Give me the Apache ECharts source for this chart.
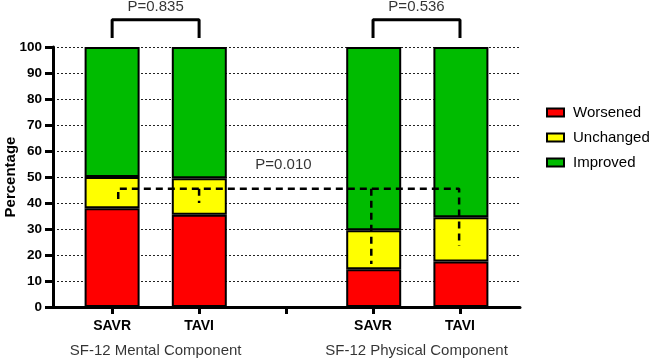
<!DOCTYPE html>
<html>
<head>
<meta charset="utf-8">
<script src="https://cdn.jsdelivr.net/npm/echarts@6/dist/echarts.min.js"></script>
<style>
  html, body { margin: 0; padding: 0; background: #fff; }
  #chart { width: 650px; height: 359px; }
</style>
</head>
<body>
<div id="chart"></div>
<script>
// 数据
var categories = ['SAVR', 'TAVI', '', 'SAVR', 'TAVI'];   // slot 2 = gap between groups
var worsened = [38, 35.5, '-', 14.5, 17.5];
var unchanged = [12, 14, '-', 15, 17];
var improved = [50, 50.5, '-', 70.5, 65.5];
var groupNames = ['SF-12 Mental Component', 'SF-12 Physical Component'];
var groupPos = [0.5, 3.5];
var pTexts = ['P=0.835', 'P=0.536', 'P=0.010'];

var FONT = 'Arial, "Liberation Sans", sans-serif';
var chart = echarts.init(document.getElementById('chart'));

function barSeries(name, vals, color) {
    return {
        name: name,
        type: 'bar',
        stack: 'total',
        barWidth: 55,
        xAxisIndex: 1,
        yAxisIndex: 1,
        data: vals,
        itemStyle: { color: color, borderColor: '#000', borderWidth: 2 },
        z: 2
    };
}

// 括号线
function bracket(data, dashed) {
    return {
        type: 'line',
        data: data,
        symbol: 'none',
        clip: false,
        silent: true,
        lineStyle: { color: '#000', width: dashed ? 2.5 : 3, type: dashed ? [7, 5] : 'solid' },
        z: 5
    };
}

function textSeries(items, size) {
    return {
        type: 'scatter',
        symbolSize: 0,
        clip: false,
        silent: true,
        data: items.map(function (t) { return { value: [t[0], t[1]], name: t[2] }; }),
        label: { show: true, position: 'inside', formatter: '{b}', color: '#000', fontSize: size, fontFamily: FONT },
        z: 6
    };
}

chart.setOption({
    animation: false,
    grid: [
        { left: 53, right: 130, top: 47, bottom: 52, outerBoundsMode: 'none', containLabel: false },
        { left: 68.5, right: 145.5, top: 47, bottom: 52, outerBoundsMode: 'none', containLabel: false }
    ],
    legend: {
        data: ['Worsened', 'Unchanged', 'Improved'],
        orient: 'vertical',
        left: 541,
        top: 100,
        itemWidth: 17,
        itemHeight: 8,
        itemGap: 10,
        icon: 'rect',
        itemStyle: { borderColor: '#000', borderWidth: 2 },
        textStyle: { color: '#000', fontSize: 15, fontFamily: FONT, padding: [0, 0, 0, 4] }
    },
    xAxis: [{
        type: 'value',
        gridIndex: 0,
        min: -0.68,
        max: 4.69,
        splitLine: { show: false },
        axisLine: { lineStyle: { color: '#000', width: 3 } },
        axisTick: { show: true, customValues: [0, 1, 2, 3, 4], length: 7, lineStyle: { color: '#000', width: 3 } },
        axisLabel: {
            customValues: [0, 1, 3, 4],
            formatter: function (v) { return categories[Math.round(v)]; },
            color: '#000', fontWeight: 'bold', fontSize: 14, fontFamily: FONT, margin: 12
        }
    }, {
        type: 'category',
        gridIndex: 1,
        data: categories,
        show: false
    }],
    yAxis: [{
        type: 'value',
        gridIndex: 0,
        min: 0,
        max: 100,
        interval: 10,
        name: 'Percentage',
        nameLocation: 'middle',
        nameGap: 35,
        nameMoveOverlap: false,
        nameTextStyle: { color: '#000', fontWeight: 'bold', fontSize: 15, fontFamily: FONT },
        axisLine: { show: true, onZero: false, lineStyle: { color: '#000', width: 3 } },
        axisTick: { show: true, length: 8, lineStyle: { color: '#000', width: 3 } },
        axisLabel: { color: '#000', fontWeight: 'bold', fontSize: 13.5, fontFamily: FONT, margin: 11 },
        splitLine: { show: true, lineStyle: { color: '#222', width: 1, type: [2, 2] } }
    }, {
        type: 'value',
        gridIndex: 1,
        min: 0,
        max: 100,
        show: false,
        splitLine: { show: false }
    }],
    series: [
        barSeries('Worsened', worsened, '#ff0000'),
        barSeries('Unchanged', unchanged, '#ffff00'),
        barSeries('Improved', improved, '#00bb00'),
        bracket([[0, 103.5], [0, 110.5], [1, 110.5], [1, 103.5]], false),
        bracket([[3, 103.5], [3, 110.5], [4, 110.5], [4, 103.5]], false),
        bracket([[0.07, 41.5], [0.07, 45.5], [3.99, 45.5], [3.99, 23.5]], true),
        bracket([[1, 45.5], [1, 40]], true),
        bracket([[2.98, 45.5], [2.98, 16.5]], true),
        textSeries([[0.5, 115.5, pTexts[0]], [3.5, 115.5, pTexts[1]], [1.97, 54.7, pTexts[2]]], 15),
        textSeries([[groupPos[0], -16.7, groupNames[0]], [groupPos[1], -16.7, groupNames[1]]], 15)
    ]
});
</script>
</body>
</html>
